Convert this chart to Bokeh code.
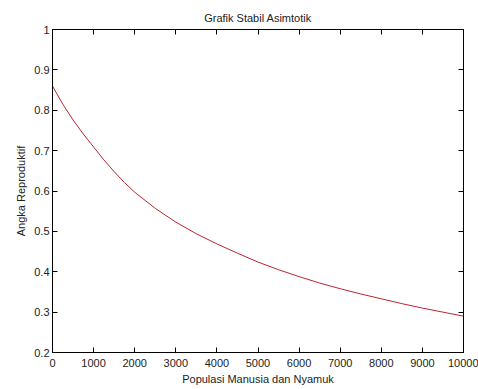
from bokeh.plotting import figure
from bokeh.models import LinearAxis, FixedTicker, Range1d, CustomJSTickFormatter
from bokeh.embed import file_html
from bokeh.resources import INLINE

populasi = [0, 250, 500, 750, 1000, 1250, 1500, 1750, 2000, 2500, 3000, 3500,
            4000, 4500, 5000, 5500, 6000, 6500, 7000, 7500, 8000, 8500, 9000,
            9500, 10000]
angka = [0.860, 0.815, 0.776, 0.741, 0.709, 0.677, 0.648, 0.621, 0.597, 0.557,
         0.523, 0.494, 0.469, 0.446, 0.424, 0.405, 0.388, 0.372, 0.358, 0.345,
         0.333, 0.321, 0.310, 0.300, 0.290]
x_ticks = [0, 1000, 2000, 3000, 4000, 5000, 6000, 7000, 8000, 9000, 10000]
y_ticks = [0.2, 0.3, 0.4, 0.5, 0.6, 0.7, 0.8, 0.9, 1.0]

FONT = "Liberation Sans"
TXT = "#222222"

p = figure(width=478, height=389, output_backend="svg", toolbar_location=None,
           x_range=Range1d(0, 10000), y_range=Range1d(0.2, 1.0),
           title="Grafik Stabil Asimtotik",
           min_border_left=52, min_border_right=15, min_border_top=29, min_border_bottom=37)
p.title.align = "center"
p.title.text_font = FONT
p.title.text_font_size = "11px"
p.title.text_font_style = "normal"
p.title.text_color = TXT
p.title.offset = 0
p.title.standoff = 11

p.line(populasi, angka, line_color="#bb2430", line_width=1)

p.xgrid.visible = False
p.ygrid.visible = False
p.outline_line_color = "black"
p.background_fill_color = "white"
p.border_fill_color = "white"

for ax in (p.xaxis[0], p.yaxis[0]):
    ax.major_tick_in = 5
    ax.major_tick_out = 0
    ax.minor_tick_line_color = None
    ax.axis_line_color = "black"
    ax.major_tick_line_color = "black"
    ax.major_label_text_font = FONT
    ax.major_label_text_font_size = "11px"
    ax.major_label_text_color = TXT
    ax.axis_label_text_font = FONT
    ax.axis_label_text_font_size = "11px"
    ax.axis_label_text_font_style = "normal"
    ax.axis_label_text_color = TXT

p.xaxis[0].ticker = FixedTicker(ticks=x_ticks)
p.yaxis[0].ticker = FixedTicker(ticks=y_ticks)
p.yaxis[0].major_label_overrides = {1.0: "1"}
p.xaxis[0].axis_label = "Populasi Manusia dan Nyamuk"
p.yaxis[0].axis_label = "Angka Reproduktif"
p.xaxis[0].major_label_standoff = 6
p.xaxis[0].axis_label_standoff = 3
p.yaxis[0].major_label_standoff = 3
p.yaxis[0].axis_label_standoff = 4

blank = CustomJSTickFormatter(code="return ''")
top = LinearAxis(ticker=FixedTicker(ticks=x_ticks), major_tick_in=5, major_tick_out=0,
                 minor_tick_line_color=None, formatter=blank,
                 axis_line_color="black", major_label_standoff=0)
right = LinearAxis(ticker=FixedTicker(ticks=y_ticks), major_tick_in=5, major_tick_out=0,
                   minor_tick_line_color=None, formatter=blank,
                   axis_line_color="black", major_label_standoff=0)
p.add_layout(top, "above")
p.add_layout(right, "right")

open("out.html", "w").write(file_html(p, INLINE))
